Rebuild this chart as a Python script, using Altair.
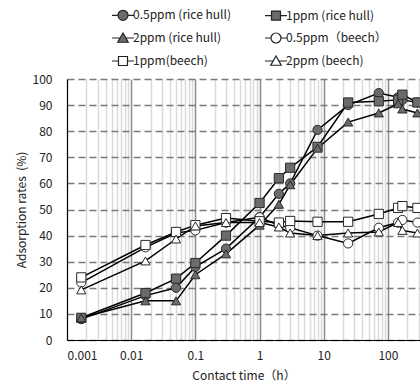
import altair as alt
import pandas as pd

FONT = "Noto Sans CJK JP"

series = ["0.5ppm (rice hull)", "1ppm (rice hull)", "2ppm (rice hull)",
          "0.5ppm（beech）", "1ppm(beech)", "2ppm (beech)"]
time_h = [0.00167, 0.0167, 0.05, 0.1, 0.3, 1, 2, 3, 8, 24, 72, 144, 168, 288]

rice_05 = [8, 17, 20, 28, 35, 47, 56, 60, 80.5, 90, 94.6, 93, 92, 91]
rice_1 = [8.5, 18, 23.5, 29.5, 40, 52.5, 62, 66, 74, 91, 91.5, 92, 94, 91]
rice_2 = [8.5, 15, 15, 25, 33, 44, 52, 59.5, 73.5, 83.5, 87, 90.5, 88.5, 87]
beech_05 = [22, 35.5, 41, 42, 45, 47, 44, 43, 40, 37, 43, 45, 46, 45]
beech_1 = [24, 36.4, 41.4, 44, 46.7, 45.5, 45, 45.6, 45.3, 45.3, 48.3, 50.6, 51.3, 50.6]
beech_2 = [19.2, 30.3, 38.7, 43.7, 45, 45, 43.3, 41, 40, 41, 41.4, 45, 42, 41]

values = [rice_05, rice_1, rice_2, beech_05, beech_1, beech_2]

rows = []
for s, vals in zip(series, values):
    for t, v in zip(time_h, vals):
        rows.append({"series": s, "time": t, "rate": v})
df = pd.DataFrame(rows)

point_shapes = ["circle", "square", "triangle-up", "circle", "square", "triangle-up"]
fills = ["#6b6b6b", "#6b6b6b", "#6b6b6b", "#ffffff", "#ffffff", "#ffffff"]
strokes = ["#222222"] * 6

c_path = "M-2.2,0L-1,0M1,0L2.2,0M1,0A1,1,0,1,1,-1,0A1,1,0,1,1,1,0Z"
s_path = "M-2.2,0L-0.9,0M0.9,0L2.2,0M-0.9,-0.9L0.9,-0.9L0.9,0.9L-0.9,0.9Z"
t_path = "M-2.2,0L-0.55,0M0.55,0L2.2,0M0,-1L1.05,0.85L-1.05,0.85Z"
legend_paths = [c_path, s_path, t_path, c_path, s_path, t_path]

tick_vals = []
for e in range(-3, 3):
    for k in range(1, 10):
        v = round(k * 10 ** e, 6)
        if v <= 316:
            tick_vals.append(v)

major = "abs(log(datum.value)/LN10 - round(log(datum.value)/LN10)) < 0.001"

x_enc = alt.X("time:Q",
              scale=alt.Scale(type="log", domain=[0.001, 316], nice=False),
              axis=alt.Axis(values=tick_vals, format="~g",
                            labelExpr=f"{major} ? datum.label : ''",
                            labelOverlap=False, ticks=False,
                            title="Contact time（h）",
                            gridColor={"condition": {"test": major, "value": "#8c8c8c"}, "value": "#dadada"},
                            gridWidth=1.5,
                            domainColor="#000", domainWidth=1,
                            labelPadding=10, titlePadding=9))
y_enc = alt.Y("rate:Q",
              scale=alt.Scale(domain=[0, 100], nice=False),
              axis=alt.Axis(values=list(range(0, 101, 10)), ticks=False,
                            title="Adsorption rates\u00a0 (%)",
                            gridColor="#7a7a7a", gridDash=[7, 4], gridWidth=1.5,
                            domainColor="#000", domainWidth=1,
                            labelPadding=15, titlePadding=4))

base = alt.Chart(df)

lines = base.mark_line(color="#000", strokeWidth=1.5, clip=True).encode(
    x=x_enc, y=y_enc, detail="series:N",
    order="time:Q")

points = base.mark_point(filled=True, stroke="#2a2a2a", strokeWidth=1, size=85,
                         opacity=1, clip=True).encode(
    x=x_enc, y=y_enc,
    shape=alt.Shape("series:N", scale=alt.Scale(domain=series, range=point_shapes), legend=None),
    fill=alt.Fill("series:N", scale=alt.Scale(domain=series, range=fills), legend=None),
)

leg = alt.Legend(orient="none", legendX=50, legendY=-70, columns=2, direction="horizontal",
                 title=None,
                 symbolSize=100, symbolStrokeWidth=1.2,
                 labelFont=FONT, labelFontSize=12, labelColor="#222",
                 labelOffset=4, columnPadding=31, rowPadding=7)

legend_layer = base.transform_filter("false").mark_point(
    filled=True, strokeWidth=1.2, size=100, opacity=1).encode(
    x=x_enc, y=y_enc,
    shape=alt.Shape("series:N", scale=alt.Scale(domain=series, range=legend_paths), legend=leg),
    fill=alt.Fill("series:N", scale=alt.Scale(domain=series, range=fills), legend=leg),
    stroke=alt.Stroke("series:N", scale=alt.Scale(domain=series, range=strokes), legend=leg),
)

chart = alt.layer(lines, points, legend_layer).resolve_scale(
    shape="independent", fill="independent", stroke="independent"
).properties(
    width=353, height=261,
    autosize=alt.AutoSizeParams(type="none"),
    padding={"left": 67, "top": 79, "right": 0, "bottom": 44},
).configure_view(stroke=None).configure_axis(
    labelFont=FONT, titleFont=FONT, labelFontSize=12, titleFontSize=12,
    labelColor="#222", titleColor="#222", titleFontWeight="normal",
)

chart.save("out.html", embed_options={"renderer": "svg", "actions": False})
